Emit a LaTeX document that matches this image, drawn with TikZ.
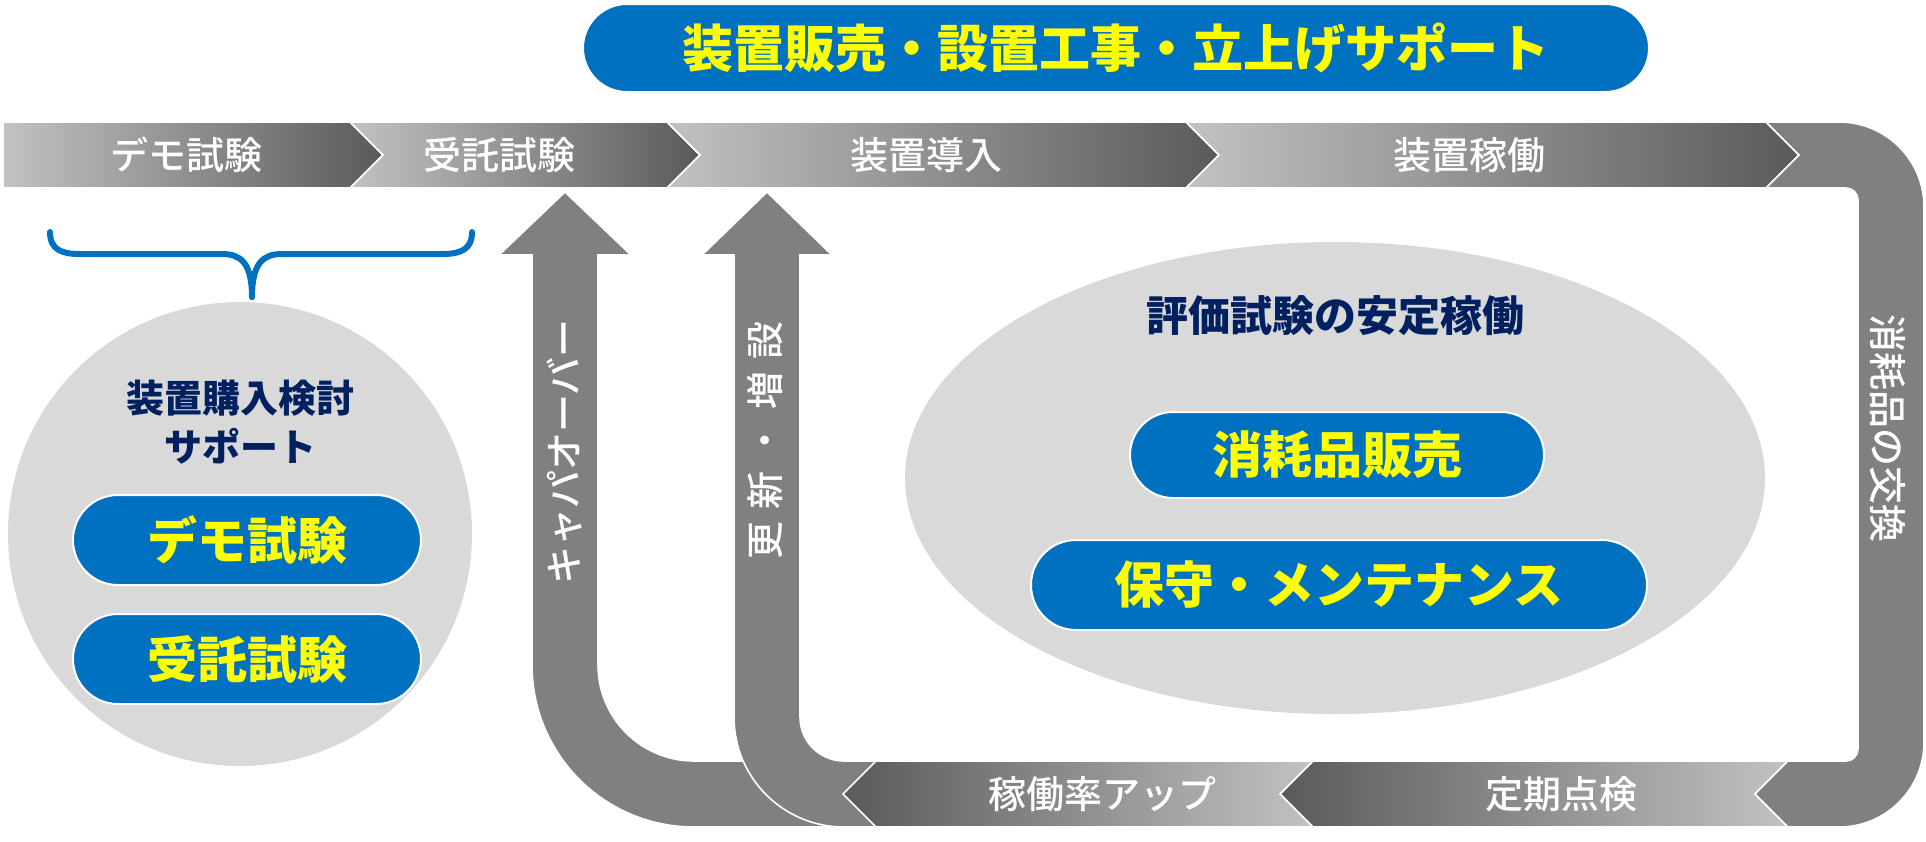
\documentclass[tikz,border=0pt]{standalone}
\usepackage{fontspec}
\setmainfont{Noto Sans CJK JP}
\IfFontExistsTF{Noto Sans CJK JP Medium}{\newfontfamily\medfont{Noto Sans CJK JP Medium}}{\newcommand{\medfont}{\bfseries}}
\usetikzlibrary{shapes.misc,shapes.geometric}
\definecolor{pillblue}{RGB}{0,112,192}
\definecolor{navy}{RGB}{0,32,96}
\definecolor{bandgray}{RGB}{128,128,128}
\definecolor{seglight}{RGB}{194,194,194}
\definecolor{segdark}{RGB}{90,90,90}
\definecolor{softgray}{RGB}{217,217,217}
\definecolor{hiyellow}{RGB}{255,255,0}

\begin{document}
\begin{tikzpicture}[x=0.5pt,y=-0.5pt]
  \tikzstyle{pill} = [rounded rectangle,fill=pillblue,draw=white,line width=1pt,text=hiyellow,inner sep=0pt,font=\fontsize{25}{30}\selectfont\bfseries]
  \tikzstyle{seglabel} = [text=white,inner sep=0pt,font=\fontsize{19}{23}\selectfont\medfont]
  \tikzstyle{navytitle} = [text=navy,inner sep=0pt,align=center,font=\fontsize{19}{24.5}\selectfont\bfseries]
  \tikzstyle{fwdseg} = [left color=seglight,right color=segdark,draw=white,line width=0.8pt]
  \tikzstyle{backseg} = [left color=segdark,right color=seglight,draw=white,line width=0.8pt]
  \tikzstyle{band} = [fill=bandgray,draw=white,line width=0.8pt]
  \tikzstyle{brace} = [draw=pillblue,line width=3pt,line cap=round]
  \newcommand{\gap}{\kern6pt}
  \useasboundingbox (0,0) rectangle (1926,841);

  % up arrows back to the strip
  \path[band] (565,192) -- (631,255) -- (598,255) -- (598,665) arc[start angle=180,end angle=270,radius=48pt]
    -- (900,761) -- (900,827) -- (694,827) arc[start angle=270,end angle=180,radius=81pt]
    -- (532,255) -- (499,255) -- cycle;
  \path[band] (767,192) -- (832,255) -- (800,255) -- (800,717) arc[start angle=180,end angle=270,radius=22pt]
    -- (950,761) -- (950,827) -- (844,827) arc[start angle=270,end angle=180,radius=55pt]
    -- (734,255) -- (702,255) -- cycle;

  % flow strip
  \path[fwdseg] (3,122) -- (350,122) -- (383,155) -- (350,188) -- (3,188) -- cycle;
  \foreach \a/\b in {350/667,667/1186,1186/1766}
    \path[fwdseg] (\a,122) -- (\b,122) -- (\b+33,155) -- (\b,188) -- (\a,188) -- (\a+33,155) -- cycle;
  \foreach \a/\b in {1313/1788,876/1313}
    \path[backseg] (\b,761) -- (\a,761) -- (\a-33,794) -- (\a,827) -- (\b,827) -- (\b-33,794) -- cycle;
  \path[band] (1766,122) -- (1839,122) arc[start angle=90,end angle=0,radius=42.5pt]
    -- (1924,742) arc[start angle=0,end angle=-90,radius=42.5pt]
    -- (1788,827) -- (1755,794) -- (1788,761) -- (1846,761) arc[start angle=-90,end angle=0,radius=6pt]
    -- (1858,200) arc[start angle=0,end angle=90,radius=6pt]
    -- (1766,188) -- (1799,155) -- cycle;

  \node[seglabel] (demo) at (186,155) {デモ試験};
  \node[seglabel] (jutaku) at (499,155) {受託試験};
  \node[seglabel] (donyu) at (926,155) {装置導入};
  \node[seglabel] (kado) at (1469,155) {装置稼働};
  \node[seglabel] (up) at (1102,794) {稼働率アップ};
  \node[seglabel] (tenken) at (1561,794) {定期点検};
  \node[seglabel,rotate=-90] (koukan) at (1888,428) {消耗品の交換};
  \node[seglabel,rotate=90] (capa) at (565,452) {キャパオーバー};
  \node[seglabel,rotate=90] (zousetsu) at (765,440) {更\gap 新\gap ・\gap 増\gap 設};

  % top banner
  \node[pill,minimum width=533pt,minimum height=44pt,font=\fontsize{25.5}{30}\selectfont\bfseries] (sales) at (1116,48) {装置販売・設置工事・立上げサポート};

  % purchase support
  \draw[brace] (50,232) .. controls (50,250) and (62,254) .. (80,254) -- (222,254) .. controls (240,254) and (252,262) .. (252,297);
  \draw[brace] (472,232) .. controls (472,250) and (460,254) .. (442,254) -- (282,254) .. controls (264,254) and (252,262) .. (252,297);
  \node[circle,fill=softgray,minimum size=232pt,inner sep=0pt] (support) at (240,534) {};
  \node[navytitle] (buy) at (240,422) {装置購入検討\\サポート};
  \node[pill,minimum width=174pt,minimum height=45pt] (demopill) at (247,540) {デモ試験};
  \node[pill,minimum width=174pt,minimum height=45pt] (jutakupill) at (247,659) {受託試験};

  % stable operation
  \node[ellipse,fill=softgray,minimum width=430pt,minimum height=236pt,inner sep=0pt] (stable) at (1335,478) {};
  \node[navytitle,font=\fontsize{21}{25}\selectfont\bfseries] (stabletitle) at (1335,316) {評価試験の安定稼働};
  \node[pill,minimum width=207pt,minimum height=43pt] (supply) at (1337,455) {消耗品販売};
  \node[pill,minimum width=308pt,minimum height=45pt] (maint) at (1339,585) {保守・メンテナンス};
\end{tikzpicture}
\end{document}
